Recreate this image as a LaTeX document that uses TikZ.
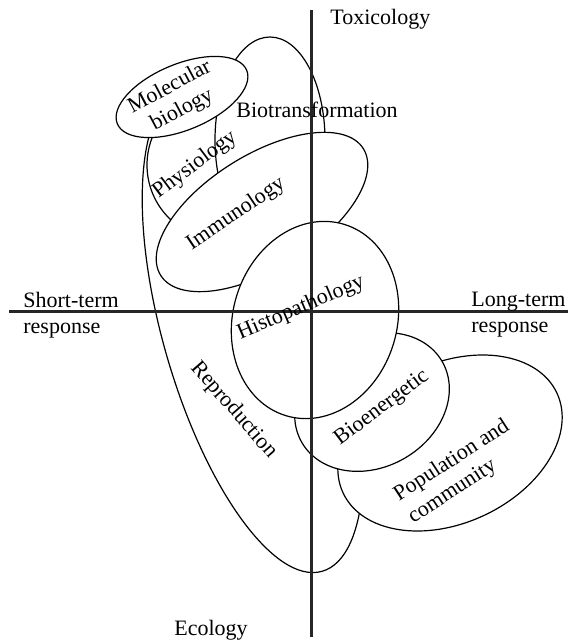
\documentclass[tikz,border=0pt]{standalone}
\usepackage{fontspec}
\setmainfont{Liberation Serif}
\begin{document}
\begin{tikzpicture}[x = 0.5pt, y = 0.5pt,
    zone/.style = {draw, fill = white, line width = 0.6pt},
    axis/.style = {line width = 1.5pt, black!85},
    lbl/.style = {inner sep = 0pt, font = \fontsize{11}{13}\selectfont}]
\useasboundingbox (0,0) rectangle (568,-642);
% centres of the fields
\coordinate (repro) at (253,-330);
\coordinate (physio) at (222,-165);
\coordinate (biotr) at (270,-140);
\coordinate (molbio) at (182,-97);
\coordinate (immuno) at (262,-212);
\coordinate (popul) at (450,-443);
\coordinate (bioen) at (372,-402);
\coordinate (histo) at (315,-320);
% fields, back to front
\draw[zone] (repro) ellipse [x radius = 90, y radius = 251, rotate = 16];
\draw[zone] (physio) circle [radius = 75];
\draw[zone] (biotr) ellipse [x radius = 55, y radius = 103];
\draw[zone] (molbio) ellipse [x radius = 70, y radius = 33, rotate = 22.5];
\draw[zone] (immuno) ellipse [x radius = 119.5, y radius = 57, rotate = 32];
\draw[zone] (popul) ellipse [x radius = 118, y radius = 80, rotate = 25];
\draw[zone] (bioen) ellipse [x radius = 81, y radius = 65, rotate = 30];
\draw[zone] (histo) ellipse [x radius = 82, y radius = 100, rotate = -17];
% axes
\coordinate (tox) at (311,-10);
\coordinate (eco) at (311,-637);
\coordinate (short) at (9,-311);
\coordinate (long) at (568,-311);
\draw[axis] (tox) -- (eco);
\draw[axis] (short) -- (long);
% axis labels
\node[lbl, anchor = base west] (toxlbl) at (330,-25) {Toxicology};
\node[lbl, anchor = base west] (ecolbl) at (174,-635) {Ecology};
\node[lbl, align = left, anchor = north west] (shortlbl) at (23,-292) {Short-term\\response};
\node[lbl, align = left, anchor = north west] (longlbl) at (471,-292) {Long-term\\response};
% field labels
\node[lbl, anchor = base west] (biotrlbl) at (236,-118) {Biotransformation};
\node[lbl, align = center, rotate = 28] (molbiolbl) at (176,-99) {Molecular\\biology};
\node[lbl, rotate = 37] (physiolbl) at (195,-165) {Physiology};
\node[lbl, rotate = 34] (immunolbl) at (236,-214) {Immunology};
\node[lbl, rotate = 23] (histolbl) at (301,-308) {Histopathology};
\node[lbl, rotate = -49] (reprolbl) at (234,-410) {Reproduction};
\node[lbl, rotate = 37] (bioenlbl) at (382,-408) {Bioenergetic};
\node[lbl, align = left, rotate = 33] (popullbl) at (459,-472) {Population and\\community};
\end{tikzpicture}
\end{document}
